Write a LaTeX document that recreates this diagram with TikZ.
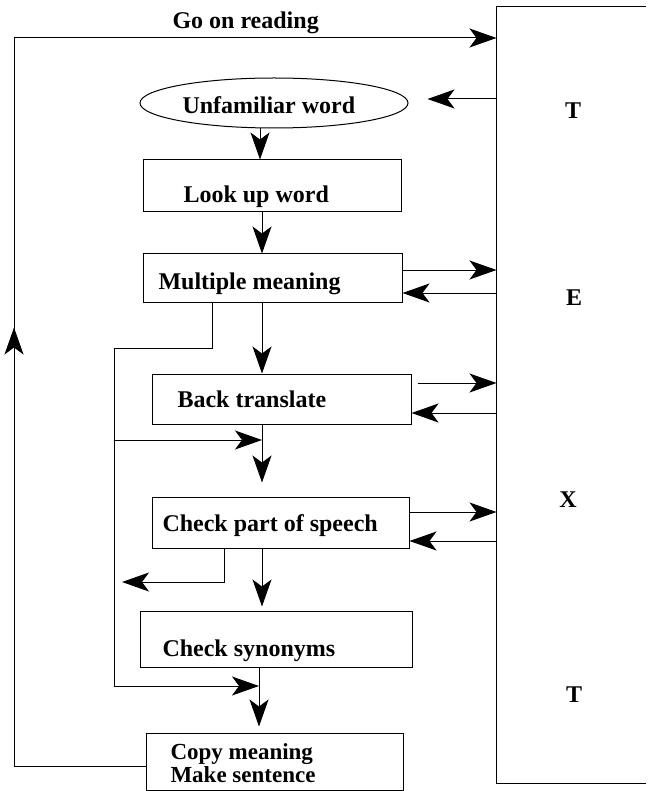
\documentclass[tikz,border=0pt]{standalone}
\usepackage{fontspec}
\setmainfont{Liberation Serif}
\usetikzlibrary{arrows.meta,shapes.geometric,decorations.markings}
\begin{document}
\begin{tikzpicture}[x=1pt,y=-1pt,line width=1pt,
  lbl/.style={font=\bfseries\fontsize{24}{24}\selectfont,inner sep=0pt,anchor=base west},
  lblsmall/.style={font=\bfseries\fontsize{23}{23}\selectfont,inner sep=0pt,anchor=base west},
  letter/.style={font=\bfseries\fontsize{24}{24}\selectfont,inner sep=0pt},
  box/.style={draw,rectangle,inner sep=0pt},
  arr/.style={-{Stealth[length=27pt,width=19pt,inset=7pt]}},
  backflow/.style={postaction={decorate},decoration={markings,
     mark=at position 570pt with {\arrow{Stealth[length=27pt,width=19pt,inset=7pt]}}}}]
\useasboundingbox (0,0) rectangle (656,791);

% TEXT column
\node[inner sep=0pt,minimum width=148pt,minimum height=776pt] (txt) at (571,395) {};
\draw (txt.north east) -- (txt.north west) -- (txt.south west) -- (txt.south east);
\node[letter] (t1) at (573,111) {T};
\node[letter] (t2) at (574,298) {E};
\node[letter] (t3) at (568,500) {X};
\node[letter] (t4) at (574,695) {T};

% flow nodes
\node[draw,ellipse,inner sep=0pt,minimum width=268pt,minimum height=50pt] (ell) at (274,103) {};
\node[lbl] (ellT) at (182,114) {Unfamiliar word};
\node[box,minimum width=258pt,minimum height=52pt] (look) at (272,186) {};
\node[lbl] (lookT) at (183,203) {Look up word};
\node[box,minimum width=259pt,minimum height=48pt] (mult) at (272.5,278) {};
\node[lbl] (multT) at (158,289) {Multiple meaning};
\node[box,minimum width=259pt,minimum height=50pt] (back) at (281.5,399) {};
\node[lbl] (backT) at (177,407) {Back translate};
\node[box,minimum width=257pt,minimum height=51pt] (check) at (280.5,522.5) {};
\node[lbl] (checkT) at (162,531) {Check part of speech};
\node[box,minimum width=272pt,minimum height=56pt] (syn) at (276,639) {};
\node[lbl] (synT) at (162,656) {Check synonyms};
\node[box,minimum width=257pt,minimum height=57pt] (copy) at (274.5,761.5) {};
\node[lblsmall] (copyA) at (170,759) {Copy meaning};
\node[lblsmall] (copyB) at (170,782) {Make sentence};
\node[lbl] (goT) at (172,29) {Go on reading};

% helper coordinates
\coordinate (c1) at (260,0);
\coordinate (c2) at (262,0);
\coordinate (c3) at (259,0);
\coordinate (b1) at (212,348);
\coordinate (lv1) at (114,348);
\coordinate (lv2) at (114,440);
\coordinate (lv3) at (114,686);
\coordinate (b2) at (224,582);
\coordinate (b2e) at (122,582);
\coordinate (lp1) at (14,766);
\coordinate (lp2) at (14,38);

% main vertical flow
\draw[arr] (c1 |- ell.south) -- (c1 |- look.north);
\draw[arr] (c2 |- look.south) -- (c2 |- mult.north);
\draw[arr] (c2 |- mult.south) -- (c2 |- back.north);
\draw[arr,shorten >=14pt] (c2 |- back.south) -- (c2 |- check.north);
\draw[arr,shorten >=4pt] (c2 |- check.south) -- (c2 |- syn.north);
\draw[arr,shorten >=6pt] (c3 |- syn.south) -- (c3 |- copy.north);

% exchanges with the text
\draw[arr,shorten >=19pt] (txt.west |- 0,99) -- (ell.east |- 0,99);
\draw[arr] (mult.east |- 0,270) -- (txt.west |- 0,270);
\draw[arr] (txt.west |- 0,293) -- (mult.east |- 0,293);
\draw[arr,shorten <=6pt] (back.east |- 0,383) -- (txt.west |- 0,383);
\draw[arr] (txt.west |- 0,413) -- (back.east |- 0,413);
\draw[arr] (check.east |- 0,512) -- (txt.west |- 0,512);
\draw[arr] (txt.west |- 0,541) -- (check.east |- 0,541);

% bypass branches
\draw (mult.south -| b1) -- (b1) -- (lv1) -- (lv3);
\draw[arr] (lv2) -- (lv2 -| c2);
\draw[arr] (lv3) -- (lv3 -| c3);
\draw[arr] (check.south -| b2) -- (b2) -- (b2e);

% go on reading loop
\draw[arr,backflow] (copy.west |- lp1) -- (lp1) -- (lp2) -- (txt.west |- lp2);
\end{tikzpicture}
\end{document}
